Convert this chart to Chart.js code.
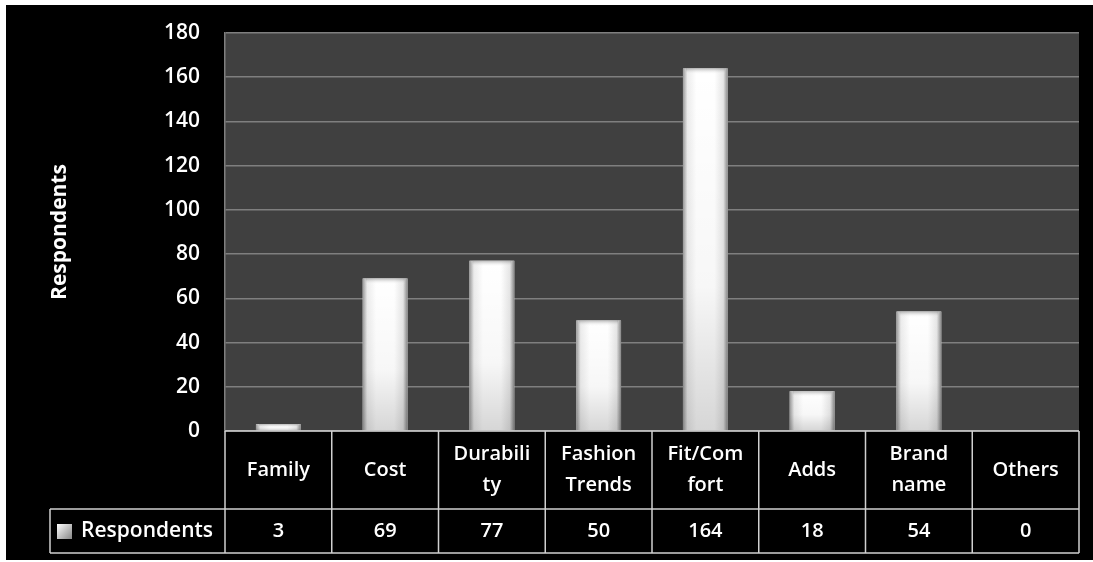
<!DOCTYPE html>
<html>
<head>
<meta charset="utf-8">
<script src="https://cdn.jsdelivr.net/npm/chart.js@4/dist/chart.umd.min.js"></script>
<style>
  html, body { margin: 0; padding: 0; background: #fff; }
  #wrap { width: 1093px; height: 562px; }
</style>
</head>
<body>
<div id="wrap"><canvas id="chart" width="1093" height="562"></canvas></div>
<script>
// data
const categories = [['Family'], ['Cost'], ['Durabili', 'ty'], ['Fashion', 'Trends'], ['Fit/Com', 'fort'], ['Adds'], ['Brand', 'name'], ['Others']];
const respondents = [3, 69, 77, 50, 164, 18, 54, 0];
const seriesName = 'Respondents';
const yTicks = [0, 20, 40, 60, 80, 100, 120, 140, 160, 180];

const FONT = '"Open Sans", "DejaVu Sans", sans-serif';

// black chart background + dark plot area
const background = {
  id: 'background',
  beforeDraw(chart) {
    const { ctx, chartArea } = chart;
    ctx.save();
    ctx.fillStyle = '#000';
    ctx.fillRect(6, 5, chart.width - 6, chart.height - 7);
    ctx.fillStyle = '#404040';
    ctx.fillRect(chartArea.left, chartArea.top, chartArea.right - chartArea.left, chartArea.bottom - chartArea.top);
    ctx.restore();
  }
};

// bevelled white bars
const bevel = {
  id: 'bevel',
  afterDatasetsDraw(chart) {
    const ctx = chart.ctx;
    chart.getDatasetMeta(0).data.forEach(bar => {
      const { x, y, base, width } = bar.getProps(['x', 'y', 'base', 'width'], true);
      const l = x - width / 2, h = base - y;
      if (h <= 0) return;
      ctx.save();
      let g = ctx.createLinearGradient(l, 0, l + width, 0);
      g.addColorStop(0, '#9a9a9a');
      g.addColorStop(0.1, '#ececec');
      g.addColorStop(0.3, '#ffffff');
      g.addColorStop(0.7, '#ffffff');
      g.addColorStop(0.9, '#e6e6e6');
      g.addColorStop(1, '#888888');
      ctx.fillStyle = g;
      ctx.fillRect(l, y, width, h);
      let v = ctx.createLinearGradient(0, y, 0, base);
      v.addColorStop(0, 'rgba(0,0,0,0)');
      v.addColorStop(0.6, 'rgba(0,0,0,0.03)');
      v.addColorStop(1, 'rgba(0,0,0,0.16)');
      ctx.fillStyle = v;
      ctx.fillRect(l, y, width, h);
      const t = Math.min(6, h / 2);
      let tg = ctx.createLinearGradient(0, y, 0, y + t);
      tg.addColorStop(0, 'rgba(120,120,120,0.5)');
      tg.addColorStop(1, 'rgba(255,255,255,0)');
      ctx.fillStyle = tg;
      ctx.fillRect(l + 3, y, width - 6, t);
      ctx.restore();
    });
  }
};

// data table under the plot
const dataTable = {
  id: 'dataTable',
  afterDraw(chart) {
    const { ctx, chartArea, scales } = chart;
    const xs = scales.x;
    const top = chartArea.bottom;
    const mid = top + 78;
    const bottom = mid + 44;
    const legendLeft = 50;
    const n = categories.length;
    const step = (chartArea.right - chartArea.left) / n;
    ctx.save();
    ctx.strokeStyle = '#d0d0d0';
    ctx.lineWidth = 1.5;
    ctx.beginPath();
    ctx.moveTo(chartArea.left, top); ctx.lineTo(chartArea.right, top);
    ctx.moveTo(legendLeft, mid); ctx.lineTo(chartArea.right, mid);
    ctx.moveTo(legendLeft, bottom); ctx.lineTo(chartArea.right, bottom);
    ctx.moveTo(legendLeft, mid); ctx.lineTo(legendLeft, bottom);
    for (let i = 0; i <= n; i++) {
      const px = chartArea.left + i * step;
      ctx.moveTo(px, top); ctx.lineTo(px, bottom);
    }
    ctx.stroke();

    ctx.fillStyle = '#fff';
    ctx.font = '600 20px ' + FONT;
    ctx.textAlign = 'center';
    ctx.textBaseline = 'middle';
    categories.forEach((lines, i) => {
      const cx = xs.getPixelForValue(i);
      const lh = 31;
      const y0 = (top + mid) / 2 - (lines.length - 1) * lh / 2;
      lines.forEach((s, k) => ctx.fillText(s, cx, y0 + k * lh));
      ctx.fillText(String(respondents[i]), cx, (mid + bottom) / 2);
    });

    // legend key
    const ky = (mid + bottom) / 2;
    let kg = ctx.createLinearGradient(57, ky - 7, 72, ky + 7);
    kg.addColorStop(0, '#ffffff');
    kg.addColorStop(1, '#8a8a8a');
    ctx.fillStyle = kg;
    ctx.fillRect(57, ky - 7, 15, 15);
    ctx.fillStyle = '#fff';
    ctx.textAlign = 'left';
    ctx.font = '600 21px ' + FONT;
    ctx.fillText(seriesName, 81, ky);
    ctx.restore();
  }
};

new Chart(document.getElementById('chart'), {
  type: 'bar',
  data: {
    labels: categories.map(c => c.join('')),
    datasets: [{
      label: seriesName,
      data: respondents,
      backgroundColor: '#f0f0f0',
      borderWidth: 0,
      barPercentage: 0.5,
      categoryPercentage: 0.84
    }]
  },
  options: {
    responsive: false,
    animation: false,
    layout: { padding: { top: 33, right: 14, left: 0, bottom: 0 } },
    plugins: { legend: { display: false }, tooltip: { enabled: false } },
    scales: {
      x: {
        grid: { display: false, drawTicks: false },
        border: { display: false },
        ticks: { display: false },
        afterFit(scale) { scale.height = 131; }
      },
      y: {
        min: 0,
        max: 180,
        afterBuildTicks(scale) { scale.ticks = yTicks.map(v => ({ value: v })); },
        grid: { color: '#7f7f7f', lineWidth: 1.5, drawTicks: false },
        border: { display: true, color: '#7f7f7f', width: 1.5 },
        ticks: { color: '#fff', padding: 25, font: { family: FONT, size: 21, weight: '600' } },
        title: {
          display: true,
          text: seriesName,
          color: '#fff',
          padding: { top: 47, bottom: 0 },
          font: { family: FONT, size: 21, weight: 'bold' }
        },
        afterFit(scale) {
          scale.width = 225;
          scale.paddingTop = 0;
          scale.paddingBottom = 0;
        }
      }
    }
  },
  plugins: [background, bevel, dataTable]
});
</script>
</body>
</html>
